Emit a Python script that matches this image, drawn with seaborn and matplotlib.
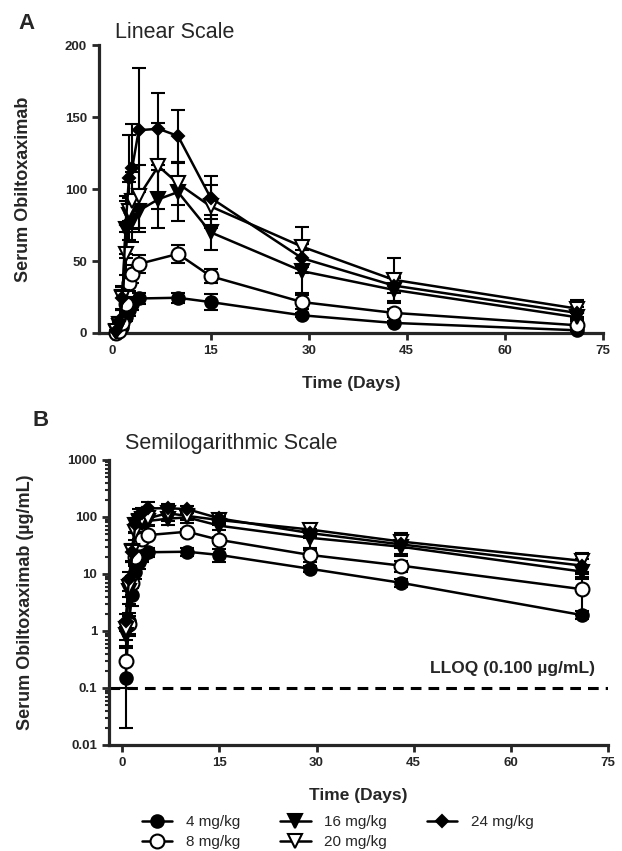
import numpy as np
import pandas as pd
import matplotlib
matplotlib.use("Agg")
import matplotlib.pyplot as plt
import seaborn as sns
from matplotlib.lines import Line2D
from matplotlib.ticker import LogLocator, NullFormatter

sns.set_style("ticks")
plt.rcParams["font.family"] = ["Liberation Sans", "DejaVu Sans"]

# ---------------- data ----------------
days = [0.5, 1, 1.5, 2, 2.5, 3, 4, 7, 10, 15, 29, 43, 71]
doses = ["4 mg/kg", "8 mg/kg", "16 mg/kg", "20 mg/kg", "24 mg/kg"]

mean_4 = [0.15, 1.5, 4.2, 11, 16, 20, 24, np.nan, 24.5, 21.5, 12.3, 7.0, 1.9]
sd_4 = [0.13, 0.6, 1.5, 3, 4, 4, 4, np.nan, 3.5, 5.5, 1.5, 1.0, 0.3]
mean_8 = [0.30, 1.3, 6.8, 20, 35, 41, 48, np.nan, 55, 39.5, 21.5, 14, 5.4]
sd_8 = [0.2, 0.5, 2.5, 5, 6, 6, 6, np.nan, 6, 5, 5, 3, 3.5]
mean_16 = [0.85, 5, 25, 72, 82, 78, 85, 93, 98, 70, 43, 30, 11]
sd_16 = [0.3, 2, 8, 20, 12, 15, 15, 20, 20, 12, 15, 9, 3]
mean_20 = [1.1, 6, 24, 55, 85, 92, 95, 116, 104, 88, 60, 37, 17]
sd_20 = [0.4, 2, 8, 15, 20, 20, 22, 30, 15, 15, 14, 15, 6]
mean_24 = [1.5, 8, 24, 75, 108, 115, 141, 142, 137, 94, 52, 33, 14]
sd_24 = [0.5, 3, 8, 20, 30, 30, 43, 25, 18, 15, 10, 5, 4]

lin_ticks = [0, 50, 100, 150, 200]
log_ticks = [0.01, 0.1, 1, 10, 100, 1000]
log_tick_labels = ["0.01", "0.1", "1", "10", "100", "1000"]
x_ticks = [0, 15, 30, 45, 60, 75]
lloq = 0.1

rows = []
for dose, m, s in zip(doses, [mean_4, mean_8, mean_16, mean_20, mean_24],
                      [sd_4, sd_8, sd_16, sd_20, sd_24]):
    for d, mm, ss in zip(days, m, s):
        if not np.isnan(mm):
            rows.append({"dose": dose, "day": d, "conc": mm, "sd": ss})
df = pd.DataFrame(rows)

styles = {
    "4 mg/kg": dict(marker="o", markerfacecolor="black", markersize=9),
    "8 mg/kg": dict(marker="o", markerfacecolor="white", markersize=10),
    "16 mg/kg": dict(marker="v", markerfacecolor="black", markersize=9.5),
    "20 mg/kg": dict(marker="v", markerfacecolor="white", markersize=10),
    "24 mg/kg": dict(marker="D", markerfacecolor="black", markersize=6.5),
}

# ---------------- figure ----------------
fig = plt.figure(figsize=(6.22, 8.51), dpi=100)
axA = fig.add_axes([0.159, 0.6087, 0.810, 0.338])
axB = fig.add_axes([0.175, 0.1246, 0.802, 0.335])


def draw(ax):
    for dose in doses:
        sub = df[df["dose"] == dose]
        ax.errorbar(sub["day"], sub["conc"], yerr=sub["sd"], fmt="none",
                    ecolor="black", elinewidth=1.5, capsize=4.7, capthick=1.5,
                    zorder=2, clip_on=False)
        sns.lineplot(data=sub, x="day", y="conc", ax=ax, color="black",
                     lw=1.8, markeredgecolor="black", markeredgewidth=1.5,
                     estimator=None, errorbar=None, legend=False,
                     clip_on=False, zorder=3, **styles[dose])


def style_axis(ax):
    sns.despine(ax=ax)
    ax.spines["left"].set_linewidth(2.3)
    ax.spines["bottom"].set_linewidth(2.3)
    ax.tick_params(which="major", length=5, width=2, direction="out")
    ax.set_xlim(-2.1, 75)
    ax.set_xticks(x_ticks, labels=[str(t) for t in x_ticks],
                  fontsize=9.5, fontweight="bold")
    ax.set_xlabel("Time (Days)", fontsize=12.5, fontweight="bold", labelpad=14)


# Panel A: linear
draw(axA)
style_axis(axA)
axA.set_ylim(0, 200)
axA.set_yticks(lin_ticks, labels=[str(t) for t in lin_ticks],
               fontsize=9.5, fontweight="bold")
axA.set_ylabel("Serum Obiltoxaximab", fontsize=13, fontweight="bold", labelpad=24)

# Panel B: semilog
axB.set_yscale("log")
draw(axB)
axB.axhline(lloq, color="black", lw=2.2, ls=(0, (3.5, 2.3)), zorder=1)
style_axis(axB)
axB.set_ylim(0.01, 1000)
axB.set_yticks(log_ticks, labels=log_tick_labels, fontsize=9.5, fontweight="bold")
axB.yaxis.set_minor_locator(LogLocator(base=10, subs=np.arange(2, 10)))
axB.yaxis.set_minor_formatter(NullFormatter())
axB.tick_params(axis="y", which="minor", length=3, width=1.5)
axB.set_ylabel("Serum Obiltoxaximab (\u00b5g/mL)", fontsize=13,
               fontweight="bold", labelpad=24)
axB.text(73, 0.22, "LLOQ (0.100 \u00b5g/mL)", ha="right", va="center",
         fontsize=12.5, fontweight="bold")

# panel letters and titles
fig.text(0.043, 0.972, "A", fontsize=16, fontweight="bold", ha="center", va="center")
fig.text(0.066, 0.506, "B", fontsize=16, fontweight="bold", ha="center", va="center")
fig.text(0.185, 0.962, "Linear Scale", fontsize=15.5, ha="left", va="center")
fig.text(0.201, 0.479, "Semilogarithmic Scale", fontsize=15.5, ha="left", va="center")

# legend
handles = [Line2D([0], [0], color="black", lw=1.8, markeredgecolor="black",
                  markeredgewidth=1.5, **styles[d]) for d in doses]
fig.legend(handles, doses, loc="center", bbox_to_anchor=(0.543, 0.022),
           ncol=3, frameon=False, fontsize=11, handlelength=2.0,
           handletextpad=0.9, columnspacing=2.6, labelspacing=0.4)

fig.savefig("out.png", dpi=100)
